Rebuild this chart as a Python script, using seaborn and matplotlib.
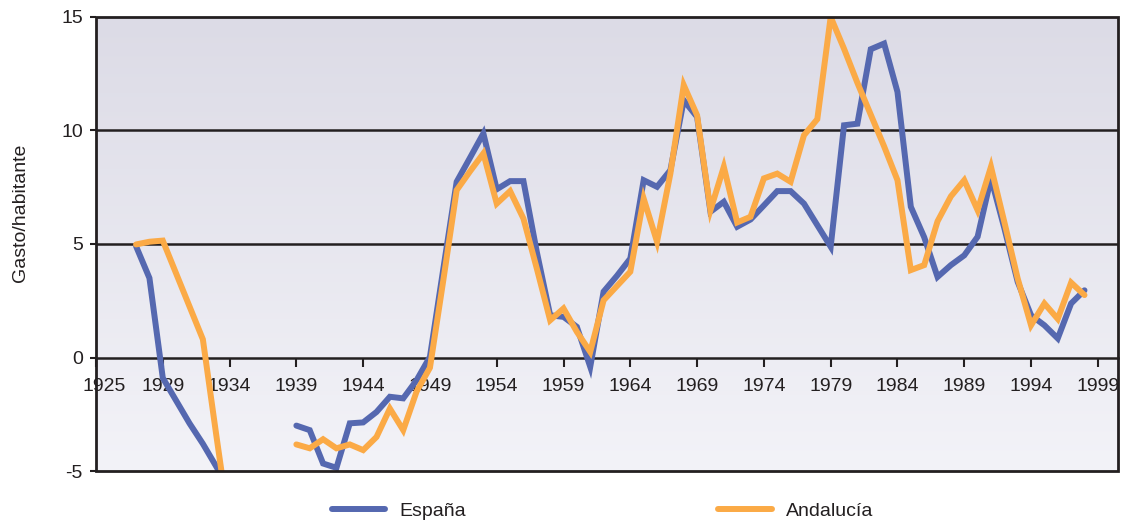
import numpy as np
import pandas as pd
import matplotlib
matplotlib.use('Agg')
import matplotlib.pyplot as plt
from matplotlib.lines import Line2D
from matplotlib.patches import Rectangle
from matplotlib.colors import LinearSegmentedColormap
from matplotlib.transforms import ScaledTranslation
import seaborn as sns

# datos (gasto por habitante)
years_a = [1927, 1928, 1929, 1930, 1931, 1932, 1933, 1934]
years_b = list(range(1939, 1999))

espana_a = [4.9, 3.5, -0.9, -1.9, -2.9, -3.8, -4.8, -5.8]
espana_b = [-3.0, -3.2, -4.67, -4.86, -2.9, -2.86, -2.4, -1.73, -1.8, -1.0,
            0.03, 3.9, 7.74, 8.8, 9.87, 7.41, 7.77, 7.77, 4.65, 1.86,
            1.79, 1.35, -0.41, 2.9, 3.6, 4.36, 7.81, 7.52, 8.25, 11.33,
            10.6, 6.42, 6.86, 5.76, 6.08, 6.7, 7.33, 7.33, 6.78, 5.83,
            4.88, 10.23, 10.3, 13.58, 13.83, 11.7, 6.64, 5.3, 3.55, 4.07,
            4.5, 5.32, 7.9, 5.7, 3.33, 1.86, 1.42, 0.84, 2.38, 2.96]

andalucia_a = [4.98, 5.1, 5.15, 3.7, 2.25, 0.8, -3.4, -7.5]
andalucia_b = [-3.83, -4.0, -3.6, -4.0, -3.83, -4.08, -3.5, -2.25, -3.2, -1.5,
               -0.45, 3.4, 7.37, 8.2, 8.99, 6.78, 7.33, 6.12, 3.92, 1.64,
               2.16, 1.13, 0.25, 2.52, 3.15, 3.78, 7.0, 5.1, 8.1, 12.0,
               10.67, 6.49, 8.4, 5.95, 6.2, 7.89, 8.1, 7.74, 9.79, 10.5,
               15.0, 13.6, 12.1, 10.7, 9.3, 7.81, 3.85, 4.07, 6.0, 7.1,
               7.81, 6.49, 8.4, 5.97, 3.48, 1.42, 2.38, 1.7, 3.3, 2.75]

xticks = [1924] + list(range(1929, 2000, 5))
xlabels = ['1925'] + [str(y) for y in range(1929, 2000, 5)]
yticks = [-5, 0, 5, 10, 15]
ylabels = ['-5', '0', '5', '10', '15']

azul = '#5568b0'
naranja = '#fbaa46'
oscuro = '#231f20'


def tabla(tramos):
    filas = []
    for i, (anos, valores) in enumerate(tramos):
        for a, v in zip(anos, valores):
            filas.append({'year': a, 'valor': v, 'tramo': i})
    return pd.DataFrame(filas)


df_esp = tabla([(years_a, espana_a), (years_b, espana_b)])
df_and = tabla([(years_a, andalucia_a), (years_b, andalucia_b)])

sns.set_style('white')
plt.rcParams['font.family'] = ['Liberation Sans', 'DejaVu Sans']

fig = plt.figure(figsize=(11.24, 5.25), dpi=100)
ax = fig.add_axes([96 / 1124, 1 - 471 / 525, 1022 / 1124, 454 / 525])

# fondo degradado del area de trazado
fondo = LinearSegmentedColormap.from_list('fondo', ['#dcdbe6', '#f3f3f8'])
ax.imshow(np.linspace(0, 1, 256).reshape(-1, 1), cmap=fondo, aspect='auto',
          extent=[0, 1, 0, 1], transform=ax.transAxes, zorder=0)

for y in [5, 10]:
    ax.axhline(y, color=oscuro, lw=1.8, zorder=1)

sns.lineplot(data=df_esp, x='year', y='valor', units='tramo', estimator=None,
             color=azul, lw=4.3, legend=False, ax=ax, zorder=3,
             solid_joinstyle='miter')
sns.lineplot(data=df_and, x='year', y='valor', units='tramo', estimator=None,
             color=naranja, lw=4.3, legend=False, ax=ax, zorder=3.1,
             solid_joinstyle='miter')

ax.set_xlim(1924.07, 2000.51)
ax.set_ylim(-5, 15)
ax.set_xlabel('')
ax.set_ylabel('')

ax.set_xticks(xticks)
ax.set_xticklabels(xlabels)
ax.set_yticks(yticks)
ax.set_yticklabels(ylabels)

for s in ['top', 'right', 'left']:
    ax.spines[s].set_visible(False)
ax.spines['bottom'].set_position(('data', 0))
ax.spines['bottom'].set_color(oscuro)
ax.spines['bottom'].set_linewidth(1.8)
ax.spines['bottom'].set_zorder(1)

ax.add_patch(Rectangle((0, 0), 1, 1, transform=ax.transAxes, fill=False,
                       edgecolor=oscuro, lw=2.0, zorder=5, clip_on=False))

ax.tick_params(axis='x', direction='out', length=6.5, width=1.5, color=oscuro,
               pad=8, labelsize=14, labelcolor=oscuro, bottom=True)
ax.tick_params(axis='y', direction='out', length=4.5, width=1.5, color=oscuro,
               pad=5, labelsize=14, labelcolor=oscuro, left=True)

# la primera etiqueta queda algo desplazada hacia dentro, como en el original
primera = ax.get_xticklabels()[0]
primera.set_transform(primera.get_transform() +
                      ScaledTranslation(8 / 100, 0, fig.dpi_scale_trans))

fig.text(20 / 1124, 1 - 213 / 525, 'Gasto/habitante', rotation=90,
         ha='center', va='center', fontsize=14, color=oscuro)

handles = [Line2D([0], [0], color=azul, lw=4.3),
           Line2D([0], [0], color=naranja, lw=4.3)]
fig.legend(handles, ['España', 'Andalucía'], loc='center left',
           bbox_to_anchor=(332 / 1124, 1 - 511 / 525), ncol=2, frameon=False,
           handlelength=2.75, handletextpad=0.7, columnspacing=13.0,
           borderpad=0, borderaxespad=0, fontsize=14, labelcolor=oscuro)

fig.savefig('out.png', dpi=100)
